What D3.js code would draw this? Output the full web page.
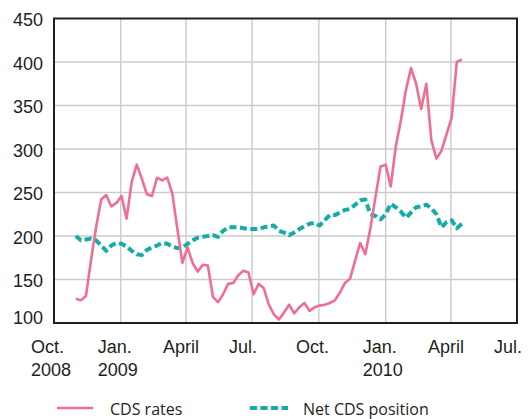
<!DOCTYPE html>
<html>
<head>
<meta charset="utf-8">
<script src="https://cdn.jsdelivr.net/npm/d3@7"></script>
<style>
  body { margin: 0; background: #fff; }
  svg { display: block; }
</style>
</head>
<body>
<div id="chart"></div>
<script>
const width = 529;
const height = 419;
const margin = { top: 18.5, right: 12, bottom: 96, left: 54 };

// weekly observations, starting Friday 31 Oct 2008
const firstWeek = new Date(2008, 9, 31);
const cdsRates = [
  128, 126, 131, 172, 210, 242, 247, 234, 238, 246,
  220, 262, 282, 266, 248, 246, 267, 264, 267, 249,
  208, 169, 187, 169, 159, 167, 166, 130, 124, 133,
  145, 146, 155, 160, 158, 133, 145, 140, 121, 110,
  104, 112, 121, 111, 118, 123, 114, 118, 120, 121,
  123, 126, 135, 146, 151, 172, 192, 179, 209, 245,
  280, 282, 257, 303, 333, 368, 393, 375, 346, 375,
  310, 289, 298, 317, 336, 400, 403
];
const netCdsPosition = [
  200, 195, 196, 197, 195, 189, 183, 189, 192, 191,
  188, 183, 179, 178, 184, 187, 189, 192, 191, 188,
  186, 187, 191, 195, 198, 199, 200, 201, 199, 206,
  210, 210, 210, 209, 208, 208, 208, 210, 211, 212,
  206, 204, 201, 204, 208, 211, 214, 215, 212, 218,
  224, 224, 227, 230, 231, 236, 241, 242, 225, 223,
  219, 225, 237, 233, 228, 221, 227, 233, 234, 236,
  232, 225, 210, 216, 218, 209, 214
];

const yTicks = [100, 150, 200, 250, 300, 350, 400, 450];
const xTicks = [
  [new Date(2008, 9, 1), 'Oct.', '2008'],
  [new Date(2009, 0, 1), 'Jan.', '2009'],
  [new Date(2009, 3, 1), 'April', ''],
  [new Date(2009, 6, 1), 'Jul.', ''],
  [new Date(2009, 9, 1), 'Oct.', ''],
  [new Date(2010, 0, 1), 'Jan.', '2010'],
  [new Date(2010, 3, 1), 'April', ''],
  [new Date(2010, 6, 1), 'Jul.', '']
];

const seriesNames = ['CDS rates', 'Net CDS position'];
const pink = '#f06e8f';
const teal = '#14aca7';
const ink = '#231f20';

const weekDate = i => d3.timeDay.offset(firstWeek, i * 7);

const x = d3.scaleTime()
  .domain([xTicks[0][0], xTicks[xTicks.length - 1][0]])
  .range([margin.left, width - margin.right]);

const y = d3.scaleLinear()
  .domain([100, 450])
  .range([height - margin.bottom, margin.top]);

const svg = d3.select('#chart')
  .append('svg')
  .attr('width', width)
  .attr('height', height)
  .style('font-family', '"Liberation Sans", Arial, sans-serif');

// grid
svg.append('g')
  .selectAll('line')
  .data(yTicks.slice(1, -1))
  .join('line')
  .attr('x1', margin.left)
  .attr('x2', width - margin.right)
  .attr('y1', d => y(d))
  .attr('y2', d => y(d))
  .attr('stroke', '#cbcbcb')
  .attr('stroke-width', 1.4);

svg.append('g')
  .selectAll('line')
  .data(xTicks.slice(1, -1))
  .join('line')
  .attr('x1', d => x(d[0]))
  .attr('x2', d => x(d[0]))
  .attr('y1', margin.top)
  .attr('y2', height - margin.bottom)
  .attr('stroke', '#cbcbcb')
  .attr('stroke-width', 1.4);

// y labels
svg.append('g')
  .selectAll('text')
  .data(yTicks)
  .join('text')
  .attr('x', 43)
  .attr('y', d => y(d) + (d === 100 ? 1 : 7.5))
  .attr('text-anchor', 'end')
  .attr('font-size', 18)
  .attr('fill', ink)
  .text(d => d);

// x labels
const xLabels = svg.append('g')
  .selectAll('text')
  .data(xTicks)
  .join('text')
  .attr('x', d => x(d[0]) - 23)
  .attr('font-size', 18)
  .attr('fill', ink);

xLabels.append('tspan')
  .attr('y', 353)
  .text(d => d[1]);
xLabels.append('tspan')
  .attr('x', d => x(d[0]) - 23)
  .attr('y', 376)
  .text(d => d[2]);

// lines
const line = d3.line()
  .x((d, i) => x(weekDate(i)))
  .y(d => y(d));

svg.append('path')
  .datum(netCdsPosition)
  .attr('fill', 'none')
  .attr('stroke', teal)
  .attr('stroke-width', 4)
  .attr('stroke-dasharray', '7 3.5')
  .attr('stroke-linejoin', 'round')
  .attr('d', line);

svg.append('path')
  .datum(cdsRates)
  .attr('fill', 'none')
  .attr('stroke', pink)
  .attr('stroke-width', 2.6)
  .attr('stroke-linejoin', 'round')
  .attr('d', line);

// frame
svg.append('rect')
  .attr('x', margin.left)
  .attr('y', margin.top)
  .attr('width', width - margin.left - margin.right)
  .attr('height', height - margin.top - margin.bottom)
  .attr('fill', 'none')
  .attr('stroke', ink)
  .attr('stroke-width', 2);

// legend
const legend = svg.append('g')
  .style('font-family', '"Open Sans", sans-serif')
  .attr('font-size', 16)
  .attr('fill', ink);

const legendItems = [
  { name: seriesNames[0], x1: 57, x2: 93, tx: 110, color: pink, width: 2.6, dash: null },
  { name: seriesNames[1], x1: 250, x2: 288, tx: 303, color: teal, width: 4, dash: '7 3.5' }
];

legendItems.forEach(item => {
  legend.append('line')
    .attr('x1', item.x1)
    .attr('x2', item.x2)
    .attr('y1', 408)
    .attr('y2', 408)
    .attr('stroke', item.color)
    .attr('stroke-width', item.width)
    .attr('stroke-dasharray', item.dash);
  legend.append('text')
    .attr('x', item.tx)
    .attr('y', 414.5)
    .text(item.name);
});
</script>
</body>
</html>
